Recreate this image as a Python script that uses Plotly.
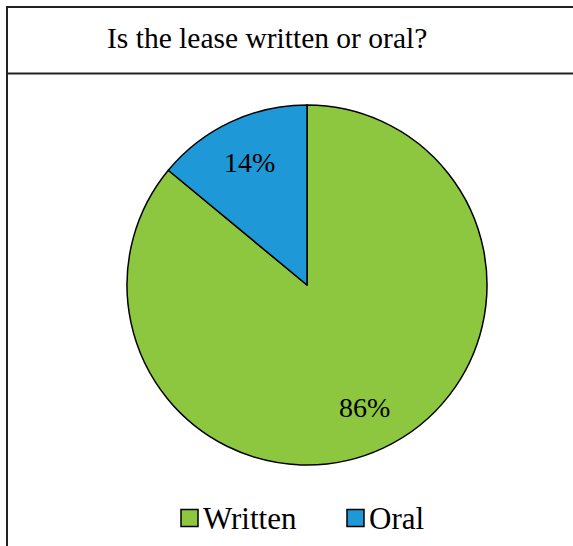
import math
import plotly.graph_objects as go

labels = ["Written", "Oral"]
values = [86, 14]
colors = ["#8DC63F", "#1E98D6"]
title_text = "Is the lease written or oral?"

W, H = 573, 546
FONT = "Liberation Serif"

# pie geometry (pixels)
CX, CY, R = 307, 285, 180

fig = go.Figure(go.Pie(
    labels=labels,
    values=values,
    sort=False,
    direction="clockwise",
    rotation=0,
    marker=dict(colors=colors, line=dict(color="#000000", width=1.5)),
    textinfo="none",
    showlegend=False,
    domain=dict(x=[(CX - R) / W, (CX + R) / W], y=[1 - (CY + R) / H, 1 - (CY - R) / H]),
    hoverinfo="label+percent",
))

annotations = [dict(
    text=title_text, x=267 / W, y=1 - 38 / H, xref="paper", yref="paper",
    xanchor="center", yanchor="middle", showarrow=False,
    font=dict(family=FONT, size=29.5, color="#000000"),
)]

# percent labels at slice mid-angles
total = sum(values)
cum = 0.0
for v in values:
    mid = (cum + v / 2) / total * 2 * math.pi
    cum += v
    d = 0.75 * R
    px = CX + d * math.sin(mid)
    py = CY - d * math.cos(mid)
    annotations.append(dict(
        text=f"{v / total:.0%}", x=px / W, y=1 - py / H, xref="paper", yref="paper",
        xanchor="center", yanchor="middle", showarrow=False,
        font=dict(family=FONT, size=28, color="#000000"),
    ))

shapes = [
    dict(type="rect", xref="paper", yref="paper",
         x0=7 / W, x1=1 + 10 / W, y0=-10 / H, y1=1 - 7 / H,
         line=dict(color="#222222", width=2)),
    dict(type="line", xref="paper", yref="paper",
         x0=7 / W, x1=1 + 10 / W, y0=1 - 73.5 / H, y1=1 - 73.5 / H,
         line=dict(color="#222222", width=2)),
]

# custom legend
legend_x = [181, 347]
LY, SQ = 518, 17
for lab, col, lx in zip(labels, colors, legend_x):
    shapes.append(dict(type="rect", xref="paper", yref="paper",
                       x0=lx / W, x1=(lx + SQ) / W,
                       y0=1 - (LY + SQ / 2) / H, y1=1 - (LY - SQ / 2) / H,
                       fillcolor=col, line=dict(color="#000000", width=1.5)))
    annotations.append(dict(
        text=lab, x=(lx + SQ + 3) / W, y=1 - LY / H, xref="paper", yref="paper",
        xanchor="left", yanchor="middle", showarrow=False,
        font=dict(family=FONT, size=31, color="#000000"),
    ))

fig.update_layout(
    width=W, height=H,
    margin=dict(l=0, r=0, t=0, b=0),
    paper_bgcolor="white",
    plot_bgcolor="white",
    showlegend=False,
    annotations=annotations,
    shapes=shapes,
)

fig.write_html("out.html", config={"displayModeBar": False},
               post_script="document.body.style.margin='0';")
